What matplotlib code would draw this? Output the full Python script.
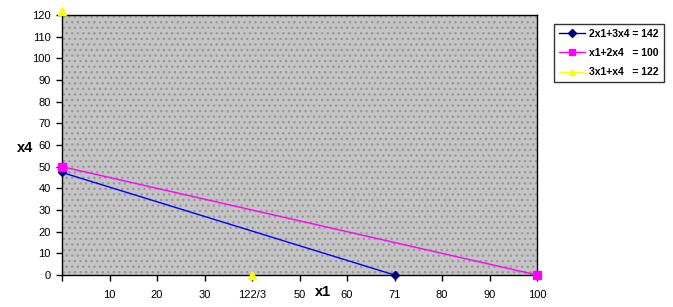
import matplotlib
matplotlib.use("Agg")
import matplotlib.pyplot as plt
from matplotlib.lines import Line2D
from matplotlib.patches import Rectangle

# Category axis (Excel-style): positions 0..10, labels
x_labels = ['', '10', '20', '30', '122/3', '50', '60', '71', '80', '90', '100']
y_ticks = [0, 10, 20, 30, 40, 50, 60, 70, 80, 90, 100, 110, 120]

# Series: category index and values
s1_name = '2x1+3x4 = 142'
s1_x = [0, 7]
s1_y = [47.33, 0]

s2_name = 'x1+2x4   = 100'
s2_x = [0, 10]
s2_y = [50, 0]

s3_name = '3x1+x4   = 122'
s3_x = [0, 4]
s3_y = [122, 0]

plt.rcParams['font.family'] = ['Liberation Sans', 'DejaVu Sans']

fig = plt.figure(figsize=(6.73, 3.07), dpi=100)
ax = fig.add_axes([62/673, 1-275/307, (537-62)/673, (275-15)/307])
ax.set_facecolor('#c4c4c4')
ax.add_patch(Rectangle((0, 0), 1, 1, transform=ax.transAxes, facecolor='none',
                       hatch='...', edgecolor='#999999', linewidth=0, zorder=0.5))

ax.plot(s1_x, s1_y, color='#0000ff', lw=1, zorder=3)
ax.plot(s1_x, s1_y, ls='none', marker='D', ms=4.5, color='#000080', zorder=4, clip_on=False)
ax.plot(s2_x, s2_y, color='#ff00ff', lw=1, zorder=3)
ax.plot(s2_x, s2_y, ls='none', marker='s', ms=6, color='#ff00ff', zorder=4, clip_on=False)
ax.plot(s3_x, s3_y, ls='none', marker='^', ms=6, color='#ffff00', zorder=4, clip_on=False)

ax.set_xlim(0, 10)
ax.set_ylim(0, 120)
ax.set_xticks(range(len(x_labels)))
ax.set_xticklabels(x_labels, fontsize=8)
ax.set_yticks(y_ticks)
ax.set_yticklabels([str(v) for v in y_ticks], fontsize=8)
ax.tick_params(axis='both', direction='out', length=4, width=1, color='black')
ax.tick_params(axis='x', pad=7)
ax.tick_params(axis='y', pad=4)
for sp in ax.spines.values():
    sp.set_color('black')
    sp.set_linewidth(1)

fig.text(25/673, 1-148/307, 'x4', fontsize=10.5, fontweight='bold', ha='center', va='center')
fig.text(323/673, 1-292/307, 'x1', fontsize=10.5, fontweight='bold', ha='center', va='center')

handles = [
    Line2D([], [], color='#000080', marker='D', ms=4.5, lw=1),
    Line2D([], [], color='#ff00ff', marker='s', ms=5, lw=1),
    Line2D([], [], color='#ffff00', marker='^', ms=5, lw=1),
]
leg = fig.legend(handles, [s1_name, s2_name, s3_name], loc='upper left',
                 bbox_to_anchor=(554/673, 1-24/307), fancybox=False, frameon=True,
                 prop={'size': 7.5, 'weight': 'bold'}, handlelength=2.5,
                 borderpad=0.45, labelspacing=0.9, handletextpad=0.45, borderaxespad=0)
leg.get_frame().set_edgecolor('black')
leg.get_frame().set_linewidth(1)

fig.savefig('out.png', dpi=100)
